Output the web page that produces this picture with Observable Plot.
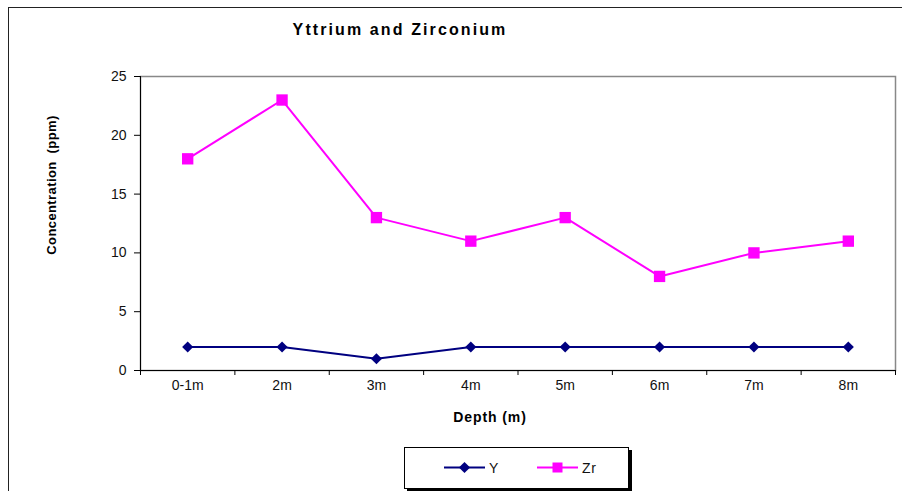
<!DOCTYPE html>
<html>
<head>
<meta charset="utf-8">
<script src="https://cdn.jsdelivr.net/npm/d3@7"></script>
<script src="https://cdn.jsdelivr.net/npm/@observablehq/plot@0.6"></script>
<style>
  html, body { margin: 0; padding: 0; background: #fff; }
  #wrap { position: relative; width: 902px; height: 491px; overflow: hidden; font-family: "Liberation Sans", Arial, sans-serif; }
  #wrap svg.plot { position: absolute; left: 0; top: 0; }
  .border-top { position: absolute; left: 8px; top: 7px; width: 894px; height: 1px; background: #222; }
  .border-left { position: absolute; left: 8px; top: 7px; width: 1px; height: 484px; background: #222; }
  .title { position: absolute; left: 250px; width: 300px; top: 21px; text-align: center; font-weight: bold; font-size: 16px; letter-spacing: 2.1px; color: #000; }
  .xlabel { position: absolute; left: 390px; width: 200px; top: 409px; text-align: center; font-weight: bold; font-size: 14px; letter-spacing: 0.9px; color: #000; }
  .ylabel { position: absolute; left: 51px; top: 185px; transform: translate(-50%, -50%) rotate(-90deg); white-space: pre; font-weight: bold; font-size: 13px; letter-spacing: 0.4px; color: #000; }
  .legend { position: absolute; left: 404px; top: 447px; width: 223px; height: 40px; border: 1px solid #000; background: #fff; box-shadow: 3px 3px 0 #000; }
  .legend svg { position: absolute; left: 0; top: 0; }
</style>
</head>
<body>
<div id="wrap">
  <div class="border-top"></div>
  <div class="border-left"></div>
  <div class="title">Yttrium and Zirconium</div>
  <div class="ylabel">Concentration  (ppm)</div>
  <div class="xlabel">Depth (m)</div>
  <div class="legend" id="legend"></div>
</div>
<script>
const categories = ["0-1m", "2m", "3m", "4m", "5m", "6m", "7m", "8m"];
const yttrium = [2, 2, 1, 2, 2, 2, 2, 2];
const zirconium = [18, 23, 13, 11, 13, 8, 10, 11];
const yTicks = [0, 5, 10, 15, 20, 25];
const seriesNames = ["Y", "Zr"];
const seriesColors = ["#000080", "#FF00FF"];

const data = categories.map((c, i) => ({i, c, Y: yttrium[i], Zr: zirconium[i]}));
const boundaries = d3.range(categories.length + 1).map(i => i - 0.5);

const chart = Plot.plot({
  width: 902,
  height: 491,
  marginLeft: 140,
  marginRight: 7,
  marginTop: 76,
  marginBottom: 121,
  style: {fontFamily: "Liberation Sans, Arial, sans-serif", fontSize: "14px", color: "#111", background: "transparent", overflow: "visible"},
  x: {domain: [-0.5, categories.length - 0.5]},
  y: {domain: [0, 25]},
  marks: [
    Plot.frame({stroke: "#888", strokeWidth: 1.5}),
    Plot.ruleY([0], {stroke: "#000", strokeWidth: 1}),
    Plot.ruleX([-0.5], {stroke: "#000", strokeWidth: 1}),
    Plot.axisY({ticks: yTicks, tickSize: 6, tickPadding: 8, label: null, stroke: "#000", fontSize: 14, letterSpacing: 1.5}),
    Plot.axisX({ticks: boundaries, tickFormat: () => "", tickSize: 5, label: null, stroke: "#000"}),
    Plot.axisX({ticks: categories.map((_, i) => i), tickFormat: i => categories[i], tickSize: 0, tickPadding: 10, label: null, fontSize: 14, letterSpacing: 1.2}),
    Plot.line(data, {x: "i", y: "Zr", stroke: seriesColors[1], strokeWidth: 2}),
    Plot.dot(data, {x: "i", y: "Zr", symbol: "square", r: 6.4, fill: seriesColors[1], stroke: "none"}),
    Plot.line(data, {x: "i", y: "Y", stroke: seriesColors[0], strokeWidth: 2}),
    Plot.dot(data, {x: "i", y: "Y", symbol: "diamond2", r: 5, fill: seriesColors[0], stroke: "none"})
  ]
});
chart.classList.add("plot");
document.getElementById("wrap").prepend(chart);

// Legend
const legend = d3.select("#legend").append("svg").attr("width", 223).attr("height", 40);
const items = [
  {name: seriesNames[0], color: seriesColors[0], x1: 39, x2: 80, sym: d3.symbolDiamond2, size: 80, tx: 84},
  {name: seriesNames[1], color: seriesColors[1], x1: 132, x2: 173, sym: d3.symbolSquare, size: 100, tx: 177}
];
items.forEach(it => {
  const cy = 19.5;
  legend.append("line").attr("x1", it.x1).attr("x2", it.x2).attr("y1", cy).attr("y2", cy).attr("stroke", it.color).attr("stroke-width", 2);
  legend.append("path").attr("d", d3.symbol(it.sym, it.size)()).attr("transform", `translate(${(it.x1 + it.x2) / 2},${cy})`).attr("fill", it.color);
  legend.append("text").attr("x", it.tx).attr("y", cy + 5).attr("font-family", "Liberation Sans, Arial, sans-serif").attr("font-size", 14).attr("letter-spacing", 0.8).attr("fill", "#111").text(it.name);
});
</script>
</body>
</html>
